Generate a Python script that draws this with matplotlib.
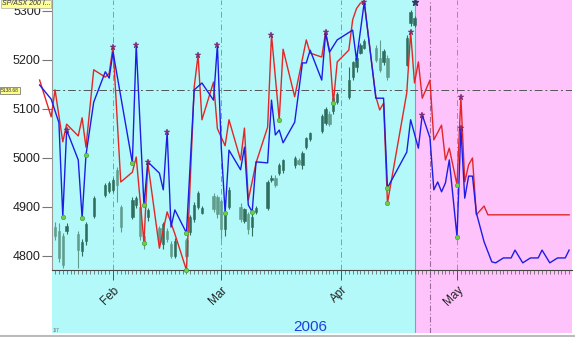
import matplotlib
matplotlib.use('Agg')
import matplotlib.pyplot as plt
import matplotlib.dates as mdates
from matplotlib.lines import Line2D
import numpy as np
import pandas as pd

plt.rcParams['font.family'] = ['Liberation Sans', 'DejaVu Sans']

# ---------------- data ----------------
candle_dates = ["2006-01-16", "2006-01-17", "2006-01-18", "2006-01-19", "2006-01-20",
                "2006-01-23", "2006-01-24", "2006-01-25", "2006-01-27", "2006-01-30",
                "2006-01-31", "2006-02-01", "2006-02-02", "2006-02-03", "2006-02-06",
                "2006-02-07", "2006-02-08", "2006-02-09", "2006-02-10", "2006-02-13",
                "2006-02-14", "2006-02-15", "2006-02-16", "2006-02-17", "2006-02-20",
                "2006-02-21", "2006-02-22", "2006-02-23", "2006-02-24", "2006-02-27",
                "2006-02-28", "2006-03-01", "2006-03-02", "2006-03-03", "2006-03-06",
                "2006-03-07", "2006-03-08", "2006-03-09", "2006-03-10", "2006-03-13",
                "2006-03-14", "2006-03-15", "2006-03-16", "2006-03-17", "2006-03-20",
                "2006-03-21", "2006-03-22", "2006-03-23", "2006-03-24", "2006-03-27",
                "2006-03-28", "2006-03-29", "2006-03-30", "2006-03-31", "2006-04-03",
                "2006-04-04", "2006-04-05", "2006-04-06", "2006-04-07", "2006-04-10",
                "2006-04-11", "2006-04-12", "2006-04-13", "2006-04-18", "2006-04-19",
                "2006-04-20"]
candle_open = [4835, 4860, 4850, 4840, 4850, 4845, 4810, 4830, 4882, 4925,
               4932, 4935, 4975, 4900, 4880, 4905, 4900, 4840, 4880, 4858,
               4825, 4850, 4825, 4800, 4832, 4848, 4875, 4900, 4888, 4922,
               4920, 4912, 4855, 4900, 4900, 4872, 4885, 4860, 4890, 4898,
               4955, 4960, 4970, 4975, 4985, 4995, 4985, 5022, 5038, 5055,
               5072, 5090, 5095, 5115, 5125, 5165, 5185, 5215, 5225, 5225,
               5205, 5195, 5205, 5190, 5275, 5272]
candle_high = [4865, 4870, 4868, 4846, 4867, 4850, 4835, 4870, 4922, 4948,
               4953, 4960, 4982, 4905, 4920, 4922, 4905, 4850, 4897, 4862,
               4870, 4858, 4830, 4836, 4836, 4884, 4910, 4932, 4902, 4928,
               4925, 4916, 4890, 4940, 4908, 4898, 4890, 4885, 4902, 4955,
               4965, 4965, 4990, 4998, 5004, 5000, 5014, 5043, 5053, 5090,
               5105, 5095, 5126, 5135, 5186, 5198, 5220, 5235, 5242, 5230,
               5240, 5222, 5210, 5250, 5303, 5290]
candle_low = [4826, 4832, 4788, 4776, 4845, 4775, 4800, 4822, 4878, 4920,
              4928, 4930, 4910, 4848, 4876, 4898, 4832, 4815, 4872, 4822,
              4815, 4828, 4795, 4795, 4795, 4842, 4870, 4896, 4885, 4890,
              4878, 4835, 4840, 4895, 4870, 4868, 4845, 4840, 4886, 4893,
              4950, 4940, 4965, 4970, 4980, 4985, 4978, 5018, 5035, 5050,
              5068, 5065, 5090, 5110, 5120, 5160, 5175, 5212, 5222, 5195,
              5176, 5190, 5160, 5188, 5270, 5268]
candle_close = [4858, 4840, 4795, 4782, 4862, 4812, 4828, 4866, 4918, 4944,
                4948, 4955, 4945, 4860, 4915, 4918, 4840, 4825, 4893, 4828,
                4865, 4835, 4800, 4830, 4800, 4880, 4905, 4928, 4898, 4895,
                4885, 4855, 4885, 4935, 4875, 4895, 4855, 4880, 4898, 4950,
                4960, 4945, 4985, 4995, 5000, 4988, 5010, 5040, 5050, 5085,
                5100, 5070, 5122, 5130, 5160, 5195, 5205, 5230, 5238, 5200,
                5180, 5218, 5165, 5245, 5298, 5285]

red_dates = ["2006-01-13", "2006-01-16", "2006-01-17", "2006-01-19", "2006-01-20",
             "2006-01-23", "2006-01-24", "2006-01-25", "2006-01-27", "2006-01-30",
             "2006-01-31", "2006-02-01", "2006-02-03", "2006-02-06", "2006-02-07",
             "2006-02-09", "2006-02-10", "2006-02-13", "2006-02-15", "2006-02-17",
             "2006-02-20", "2006-02-22", "2006-02-23", "2006-02-24", "2006-02-27",
             "2006-02-28", "2006-03-02", "2006-03-03", "2006-03-06", "2006-03-07",
             "2006-03-08", "2006-03-10", "2006-03-13", "2006-03-14", "2006-03-16",
             "2006-03-17", "2006-03-20", "2006-03-23", "2006-03-24", "2006-03-27",
             "2006-03-28", "2006-03-29", "2006-03-30", "2006-03-31", "2006-04-03",
             "2006-04-04", "2006-04-05", "2006-04-06", "2006-04-07", "2006-04-10",
             "2006-04-11", "2006-04-12", "2006-04-13", "2006-04-18", "2006-04-19",
             "2006-04-20", "2006-04-21", "2006-04-22", "2006-04-24", "2006-04-25",
             "2006-04-27", "2006-04-28", "2006-04-29", "2006-05-01", "2006-05-02",
             "2006-05-03", "2006-05-04", "2006-05-05", "2006-05-06", "2006-05-08",
             "2006-05-09", "2006-05-30"]
red_values = [5159, 5084, 5139, 5033, 5069, 5045, 5082, 5022, 5180, 5165,
              5173, 5227, 4951, 4971, 5002, 4827, 4990, 4816, 4890, 4845,
              4771, 5145, 5210, 5078, 5155, 5060, 5025, 5078, 4996, 5061,
              4914, 4990, 5063, 5251, 5078, 5222, 5125, 5241, 5214, 5206,
              5257, 5220, 5112, 5196, 5220, 5282, 5305, 5316, 5318, 5125,
              5098, 5112, 4908, 5133, 5257, 5153, 5196, 5122, 5159, 5037,
              5067, 4996, 5020, 4945, 5124, 4951, 4986, 5000, 4884, 4902,
              4884, 4884]

blue_dates = ["2006-01-13", "2006-01-16", "2006-01-18", "2006-01-19", "2006-01-20",
              "2006-01-23", "2006-01-24", "2006-01-25", "2006-01-27", "2006-01-30",
              "2006-01-31", "2006-02-01", "2006-02-06", "2006-02-07", "2006-02-09",
              "2006-02-10", "2006-02-13", "2006-02-14", "2006-02-15", "2006-02-16",
              "2006-02-17", "2006-02-20", "2006-02-22", "2006-02-24", "2006-02-27",
              "2006-02-28", "2006-03-01", "2006-03-02", "2006-03-03", "2006-03-06",
              "2006-03-07", "2006-03-08", "2006-03-09", "2006-03-10", "2006-03-13",
              "2006-03-14", "2006-03-15", "2006-03-16", "2006-03-17", "2006-03-20",
              "2006-03-22", "2006-03-23", "2006-03-24", "2006-03-27", "2006-03-28",
              "2006-03-29", "2006-03-31", "2006-04-04", "2006-04-05", "2006-04-07",
              "2006-04-10", "2006-04-12", "2006-04-13", "2006-04-18", "2006-04-19",
              "2006-04-21", "2006-04-22", "2006-04-24", "2006-04-25", "2006-04-26",
              "2006-04-27", "2006-04-28", "2006-04-29", "2006-05-01", "2006-05-02",
              "2006-05-03", "2006-05-04", "2006-05-05", "2006-05-06", "2006-05-08",
              "2006-05-10", "2006-05-11", "2006-05-13", "2006-05-15", "2006-05-16",
              "2006-05-18", "2006-05-20", "2006-05-22", "2006-05-23", "2006-05-25",
              "2006-05-27", "2006-05-29", "2006-05-30"]
blue_values = [5149, 5120, 5072, 4880, 5057, 4996, 4878, 5006, 5114, 5176,
               5163, 5216, 4990, 5231, 4904, 4992, 4969, 4935, 5053, 4859,
               4894, 4847, 5139, 5153, 5118, 5231, 5022, 4888, 5016, 4976,
               5022, 4904, 4890, 4992, 4990, 5118, 5047, 5057, 5031, 5073,
               5194, 5194, 5220, 5159, 5255, 5216, 5241, 5261, 5200, 5318,
               5122, 5122, 4939, 5012, 5078, 5020, 5088, 5041, 4935, 4951,
               4931, 4949, 4996, 4839, 5061, 4918, 4963, 4963, 4888, 4829,
               4788, 4786, 4796, 4796, 4812, 4786, 4796, 4796, 4812, 4786,
               4796, 4796, 4812]

red_peaks = ["2006-02-01", "2006-02-23", "2006-03-14", "2006-03-28", "2006-04-07",
             "2006-04-19", "2006-05-02"]
red_troughs = ["2006-02-09", "2006-02-20", "2006-03-16", "2006-03-30", "2006-04-13",
               "2006-05-01"]
blue_peaks = ["2006-01-20", "2006-02-07", "2006-02-10", "2006-02-15", "2006-02-28",
              "2006-04-22", "2006-05-02"]
blue_troughs = ["2006-01-19", "2006-01-24", "2006-01-25", "2006-02-06", "2006-02-09",
                "2006-02-20", "2006-03-02", "2006-03-09", "2006-04-13", "2006-05-01"]
price_peak_date = ["2006-04-20"]
price_peak_value = [5318]

ref_level = 5138.68
y_ticks = [4800, 4900, 5000, 5100, 5200, 5300]
forecast_start = "2006-04-20 02:00"
marker_line_date = "2006-04-24"
x_start, x_end = "2006-01-16 05:00", "2006-05-30 18:00"
y_lo, y_hi = 4771.4, 5322.4

# ---------------- figure ----------------
W, H = 575, 337
fig = plt.figure(figsize=(W / 100, H / 100), dpi=100)


def fx(px):
    return px / W


def fy(py):
    return 1 - py / H


xl = (mdates.date2num(pd.Timestamp(x_start)), mdates.date2num(pd.Timestamp(x_end)))
cyan = '#b4f9f9'
pink = '#ffc3fb'

bg = fig.add_axes([fx(52), fy(333), fx(572) - fx(52), fy(0) - fy(333)])
bg.set_xlim(xl)
bg.set_ylim(0, 1)
bg.axis('off')
split = mdates.date2num(pd.Timestamp(forecast_start))
bg.axvspan(xl[0], split, color=cyan, lw=0)
bg.axvspan(split, xl[1], color=pink, lw=0)
bg.axvline(split, color='#7aa6b0', lw=0.8)
bg.axvline(mdates.date2num(pd.Timestamp(marker_line_date)), color='#9a6a9a',
           lw=0.8, ls=(0, (5, 2, 1, 2)))

ax = fig.add_axes([fx(52), fy(270), fx(572) - fx(52), fy(0) - fy(270)])
ax.patch.set_alpha(0)
ax.set_xlim(xl)
ax.set_ylim(y_lo, y_hi)

for s in ['top', 'right']:
    ax.spines[s].set_visible(False)
ax.spines['left'].set_color('#999999')
ax.spines['bottom'].set_color('#444444')
ax.spines['bottom'].set_linewidth(0.8)

ax.xaxis.set_major_locator(mdates.MonthLocator())
ax.xaxis.set_major_formatter(mdates.DateFormatter('%b'))
ax.xaxis.set_minor_locator(mdates.DayLocator())
ax.tick_params(axis='x', which='major', length=7, width=0.7, color='#555555',
               labelsize=8.5, labelcolor='#222222', pad=3)
ax.tick_params(axis='x', which='minor', length=3, width=0.5, color='#555555')
for lab in ax.get_xticklabels():
    lab.set_rotation(45)
    lab.set_ha('right')
    lab.set_rotation_mode('anchor')

ax.set_yticks(y_ticks)
ax.set_yticklabels([str(v) for v in y_ticks])
ax.tick_params(axis='y', length=7, width=0.8, color='#777777', labelsize=9,
               labelcolor='#222222', pad=1)

# month grid lines
for m in pd.date_range('2006-02-01', '2006-05-01', freq='MS'):
    ax.axvline(mdates.date2num(m), color='#8a9a9a', lw=0.7, ls=(0, (6, 3, 1, 3)), zorder=1)
ax.axhline(ref_level, color='#555555', lw=0.7, ls=(0, (8, 3, 2, 3)), zorder=1)

# candles
cd = mdates.date2num(pd.to_datetime(candle_dates))
o = np.array(candle_open)
h = np.array(candle_high)
l = np.array(candle_low)
c = np.array(candle_close)
cols = np.where(c >= o, '#2f6e5e', '#5f9d8c')
ax.vlines(cd, l, h, colors=cols, lw=0.8, zorder=2)
ax.bar(cd, np.maximum(np.abs(c - o), 2), bottom=np.minimum(o, c), width=0.6,
       color=cols, edgecolor=cols, lw=0.4, zorder=2)

# lines
rd = mdates.date2num(pd.to_datetime(red_dates))
bd = mdates.date2num(pd.to_datetime(blue_dates))
ax.plot(rd, red_values, color='#e32626', lw=1.0, zorder=4, clip_on=False)
ax.plot(bd, blue_values, color='#1d1de6', lw=1.0, zorder=5, clip_on=False)

rmap = dict(zip(red_dates, red_values))
bmap = dict(zip(blue_dates, blue_values))


def mk(dates, mp, **kw):
    ax.plot(mdates.date2num(pd.to_datetime(dates)), [mp[d] for d in dates],
            ls='none', zorder=6, clip_on=False, **kw)


star = dict(marker='*', ms=5, color='#8c2d8c', mec='#5a1a5a', mew=0.3)
dot = dict(marker='o', ms=3.2, color='#6ad04a', mec='#3a9a2a', mew=0.4)
mk(red_peaks, rmap, **star)
mk(blue_peaks, bmap, **star)
mk(red_troughs, rmap, **dot)
mk(blue_troughs, bmap, **dot)
ax.plot(mdates.date2num(pd.to_datetime(price_peak_date)), price_peak_value, ls='none',
        marker='*', ms=5, color='#333a66', zorder=6, clip_on=False)

# texts
fig.text(fx(1), fy(90.5), '5138.68', fontsize=3.6, va='center', ha='left', color='#333',
         bbox=dict(facecolor='#ffff88', edgecolor='#666', pad=0.5, lw=0.5))
fig.text(fx(2), fy(3.8), 'SP/ASX 200 I...', fontsize=5, style='italic', va='center',
         ha='left', color='#333',
         bbox=dict(facecolor='#ffff99', edgecolor='#999', pad=0.4, lw=0.4))
fig.text(fx(310), fy(327), '2006', color='#1f3fdf', fontsize=11, ha='center', va='center')
fig.text(fx(53), fy(333), '1/7', fontsize=3.5, color='#666', va='bottom')
fig.add_artist(Line2D([0, 1], [fy(335.5), fy(335.5)], color='#bbbbbb', lw=1.5))

fig.savefig('out.png', dpi=100)
